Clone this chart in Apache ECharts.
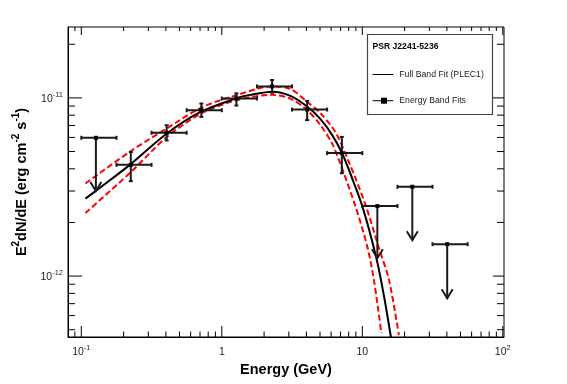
<!DOCTYPE html>
<html>
<head>
<meta charset="utf-8">
<script src="https://cdn.jsdelivr.net/npm/echarts@6/dist/echarts.min.js"></script>
<style>
html,body{margin:0;padding:0;background:#fff;}
#chart{width:567px;height:384px;}
</style>
</head>
<body>
<div id="chart"></div>
<script>
// ---- Energy band fits (bins) ----
const binLow    = [0.1, 0.178, 0.316, 0.562, 1.0, 1.78, 3.16, 5.62, 10.0, 17.8, 31.6];
const binHigh   = [0.178, 0.316, 0.562, 1.0, 1.78, 3.16, 5.62, 10.0, 17.8, 31.6, 56.2];
const binEnergy = [0.127, 0.225, 0.405, 0.715, 1.27, 2.28, 4.05, 7.15, 12.8, 22.7, 40.2];
const bandFlux  = [5.97e-12, 4.21e-12, 6.37e-12, 8.53e-12, 9.92e-12, 1.16e-11, 8.6e-12, 4.90e-12, 2.47e-12, 3.17e-12, 1.51e-12];
const fluxErrHigh = [null, 4.97e-12, 7.03e-12, 9.3e-12, 1.06e-11, 1.26e-11, 9.62e-12, 6.04e-12, null, null, null];
const fluxErrLow  = [null, 3.41e-12, 5.77e-12, 7.82e-12, 9.06e-12, 1.07e-11, 7.5e-12, 3.78e-12, null, null, null];
const isUpperLimit = [true, false, false, false, false, false, false, false, true, true, true];
const ulArrowTip   = [3.0e-12, null, null, null, null, null, null, null, 1.26e-12, 1.59e-12, 7.5e-13];

// ---- Full band fit (PLEC1) ----
const fitEnergy = [0.107, 0.135, 0.225, 0.400, 0.700, 1.27, 1.59, 2.29, 3.08, 4.07, 5.04, 6.11, 7.19, 8.25, 10.0, 12.6, 14.3, 15.9, 16.3];
const fitFlux   = [2.72e-12, 3.12e-12, 4.25e-12, 6.25e-12, 8.31e-12, 9.96e-12, 1.04e-11, 1.083e-11, 1.026e-11, 8.91e-12, 7.6e-12, 6.18e-12, 4.88e-12, 3.73e-12, 2.47e-12, 1.26e-12, 7.66e-13, 4.67e-13, 4.2e-13];

// ---- 1-sigma band (red dashed) ----
const upEnergy = [0.107, 0.225, 0.405, 0.715, 1.27, 2.28, 3.08, 4.05, 5.04, 6.44, 7.98, 10.56, 13.14, 15.5, 18.2];
const upFlux   = [3.31e-12, 5.03e-12, 6.73e-12, 8.83e-12, 1.035e-11, 1.16e-11, 1.123e-11, 9.5e-12, 8.2e-12, 6.42e-12, 4.42e-12, 2.50e-12, 1.435e-12, 9.5e-13, 4.67e-13];
const loEnergy = [0.107, 0.225, 0.405, 0.715, 1.27, 2.28, 3.08, 4.05, 5.04, 6.13, 7.0, 8.96, 10.86, 12.1, 13.67];
const loFlux   = [2.26e-12, 3.83e-12, 6.02e-12, 8.18e-12, 9.71e-12, 1.04e-11, 9.9e-12, 8.53e-12, 7.03e-12, 5.50e-12, 4.25e-12, 2.45e-12, 1.46e-12, 9.5e-13, 4.79e-13];

// ---- axes ----
const xRange = [0.0804, 102];
const yRange = [4.55e-13, 2.5e-11];
const xMajorTicks = [0.1, 1, 10, 100];
const xMinorTicks = [0.09, 0.2, 0.3, 0.4, 0.5, 0.6, 0.7, 0.8, 0.9, 2, 3, 4, 5, 6, 7, 8, 9, 20, 30, 40, 50, 60, 70, 80, 90];
const yMajorTicks = [1e-12, 1e-11];
const yMinorTicks = [5e-13, 6e-13, 7e-13, 8e-13, 9e-13, 2e-12, 3e-12, 4e-12, 5e-12, 6e-12, 7e-12, 8e-12, 9e-12, 2e-11];

const legendTitle = 'PSR J2241-5236';
const legendFit = 'Full Band Fit (PLEC1)';
const legendBands = 'Energy Band Fits';

const FONT = '"Liberation Sans", Arial, Helvetica, sans-serif';

function powLabel(v) {
  const l = Math.log10(v);
  const r = Math.round(l);
  if (Math.abs(l - r) > 1e-4) return '';
  if (r === 0) return '{b|1}';
  if (r === 1) return '{b|10}';
  return '{b|10}{s|' + r + '}';
}
const labelRich = {
  b: {fontSize: 10.5, fontFamily: FONT, color: '#222', lineHeight: 14, verticalAlign: 'bottom'},
  s: {fontSize: 7.5, fontFamily: FONT, color: '#222', lineHeight: 9, verticalAlign: 'top'}
};

const chart = echarts.init(document.getElementById('chart'), null, {renderer: 'canvas'});

const ERR_COLOR = '#1a1a1a';

function renderBands(params, api) {
  const i = params.dataIndex;
  const f = bandFlux[i];
  const c = api.coord([binEnergy[i], f]);
  const l = api.coord([binLow[i], f]);
  const r = api.coord([binHigh[i], f]);
  const st = {stroke: ERR_COLOR, lineWidth: 2, fill: null};
  const ch = [];
  ch.push({type: 'line', shape: {x1: l[0], y1: l[1], x2: r[0], y2: r[1]}, style: st});
  ch.push({type: 'line', shape: {x1: l[0], y1: l[1] - 2, x2: l[0], y2: l[1] + 2}, style: st});
  ch.push({type: 'line', shape: {x1: r[0], y1: r[1] - 2, x2: r[0], y2: r[1] + 2}, style: st});
  if (isUpperLimit[i]) {
    const t = api.coord([binEnergy[i], ulArrowTip[i]]);
    ch.push({type: 'line', shape: {x1: c[0], y1: c[1], x2: t[0], y2: t[1]}, style: st});
    ch.push({type: 'polyline', shape: {points: [[t[0] - 5.5, t[1] - 9], [t[0], t[1]], [t[0] + 5.5, t[1] - 9]]}, style: st});
  } else {
    const h = api.coord([binEnergy[i], fluxErrHigh[i]]);
    const lo = api.coord([binEnergy[i], fluxErrLow[i]]);
    ch.push({type: 'line', shape: {x1: h[0], y1: h[1], x2: lo[0], y2: lo[1]}, style: st});
    ch.push({type: 'line', shape: {x1: h[0] - 2, y1: h[1], x2: h[0] + 2, y2: h[1]}, style: st});
    ch.push({type: 'line', shape: {x1: lo[0] - 2, y1: lo[1], x2: lo[0] + 2, y2: lo[1]}, style: st});
  }
  ch.push({type: 'rect', shape: {x: c[0] - 2, y: c[1] - 2, width: 4, height: 4}, style: {fill: '#000'}});
  return {type: 'group', children: ch};
}

function xTickRenderer(lenBottom, lenTop) {
  return function (params, api) {
    const cs = params.coordSys;
    const px = api.coord([api.value(0), 1e-12])[0];
    const yb = cs.y + cs.height, yt = cs.y;
    const st = {stroke: '#000', lineWidth: 1};
    return {type: 'group', children: [
      {type: 'line', shape: {x1: px, y1: yb, x2: px, y2: yb - lenBottom}, style: st},
      {type: 'line', shape: {x1: px, y1: yt, x2: px, y2: yt + lenTop}, style: st}
    ]};
  };
}
function yTickRenderer(lenLeft, lenRight) {
  return function (params, api) {
    const cs = params.coordSys;
    const py = api.coord([1, api.value(1)])[1];
    const xl = cs.x, xr = cs.x + cs.width;
    const st = {stroke: '#000', lineWidth: 1};
    return {type: 'group', children: [
      {type: 'line', shape: {x1: xl, y1: py, x2: xl + lenLeft, y2: py}, style: st},
      {type: 'line', shape: {x1: xr, y1: py, x2: xr - lenRight, y2: py}, style: st}
    ]};
  };
}

const option = {
  animation: false,
  backgroundColor: '#fff',
  grid: {left: 68, top: 27, right: 63, bottom: 47, show: true, borderColor: '#000', borderWidth: 1, backgroundColor: 'transparent'},
  xAxis: {
    type: 'log', logBase: 10, min: xRange[0], max: xRange[1],
    axisLine: {show: true, lineStyle: {color: '#000', width: 1}},
    axisTick: {show: false}, splitLine: {show: false}, minorTick: {show: false},
    axisLabel: {formatter: powLabel, rich: labelRich, margin: 7, showMinLabel: false, showMaxLabel: true},
    name: 'Energy (GeV)', nameLocation: 'middle', nameGap: 24,
    nameTextStyle: {fontWeight: 'bold', fontSize: 14.5, color: '#000', fontFamily: FONT}
  },
  yAxis: {
    type: 'log', logBase: 10, min: yRange[0], max: yRange[1],
    axisLine: {show: true, lineStyle: {color: '#000', width: 1}},
    axisTick: {show: false}, splitLine: {show: false}, minorTick: {show: false},
    axisLabel: {formatter: powLabel, rich: labelRich, margin: 5},
    name: '{b|E}{s|2}{b|dN/dE (erg cm}{s|-2}{b| s}{s|-1}{b|)}',
    nameLocation: 'middle', nameGap: 33, nameRotate: 90,
    nameTextStyle: {
      fontWeight: 'bold', fontSize: 14.5, color: '#000', fontFamily: FONT,
      rich: {
        b: {fontWeight: 'bold', fontSize: 14.5, fontFamily: FONT, color: '#000', lineHeight: 18, verticalAlign: 'bottom'},
        s: {fontWeight: 'bold', fontSize: 10, fontFamily: FONT, color: '#000', lineHeight: 11, verticalAlign: 'top'}
      }
    }
  },
  series: [
    {type: 'custom', name: 'xMajor', renderItem: xTickRenderer(11, 8), data: xMajorTicks.map(v => [v, 1e-12]), silent: true, z: 5},
    {type: 'custom', name: 'xMinor', renderItem: xTickRenderer(5.5, 4), data: xMinorTicks.map(v => [v, 1e-12]), silent: true, z: 5},
    {type: 'custom', name: 'yMajor', renderItem: yTickRenderer(14, 11), data: yMajorTicks.map(v => [1, v]), silent: true, z: 5},
    {type: 'custom', name: 'yMinor', renderItem: yTickRenderer(7, 7), data: yMinorTicks.map(v => [1, v]), silent: true, z: 5},
    {type: 'line', name: 'upper', data: upEnergy.map((e, i) => [e, upFlux[i]]), showSymbol: false, smooth: 0.3, clip: true,
     lineStyle: {color: '#ff0000', width: 2, type: [6, 3]}, z: 3},
    {type: 'line', name: 'lower', data: loEnergy.map((e, i) => [e, loFlux[i]]), showSymbol: false, smooth: 0.3, clip: true,
     lineStyle: {color: '#ff0000', width: 2, type: [6, 3]}, z: 3},
    {type: 'line', name: legendFit, data: fitEnergy.map((e, i) => [e, fitFlux[i]]), showSymbol: false, smooth: 0.3, clip: true,
     lineStyle: {color: '#000', width: 2}, z: 4},
    {type: 'custom', name: legendBands, renderItem: renderBands, data: binEnergy.map((e, i) => [e, bandFlux[i]]), z: 6}
  ],
  graphic: [
    {type: 'rect', shape: {x: 367.5, y: 34.5, width: 125, height: 80}, style: {fill: '#fff', stroke: '#444', lineWidth: 1.2}, z: 10},
    {type: 'text', x: 372.5, y: 47, style: {text: legendTitle, font: 'bold 8.6px ' + FONT, fill: '#000', verticalAlign: 'middle'}, z: 11},
    {type: 'line', shape: {x1: 372.7, y1: 74.5, x2: 393.3, y2: 74.5}, style: {stroke: '#000', lineWidth: 1}, z: 11},
    {type: 'text', x: 399.3, y: 74.5, style: {text: legendFit, font: '8.7px ' + FONT, fill: '#222', verticalAlign: 'middle'}, z: 11},
    {type: 'line', shape: {x1: 372.7, y1: 100.7, x2: 393.3, y2: 100.7}, style: {stroke: '#000', lineWidth: 1}, z: 11},
    {type: 'rect', shape: {x: 381, y: 97.7, width: 6, height: 6}, style: {fill: '#000'}, z: 11},
    {type: 'text', x: 399.3, y: 100.7, style: {text: legendBands, font: '8.7px ' + FONT, fill: '#222', verticalAlign: 'middle'}, z: 11}
  ]
};
chart.setOption(option);
</script>
</body>
</html>
